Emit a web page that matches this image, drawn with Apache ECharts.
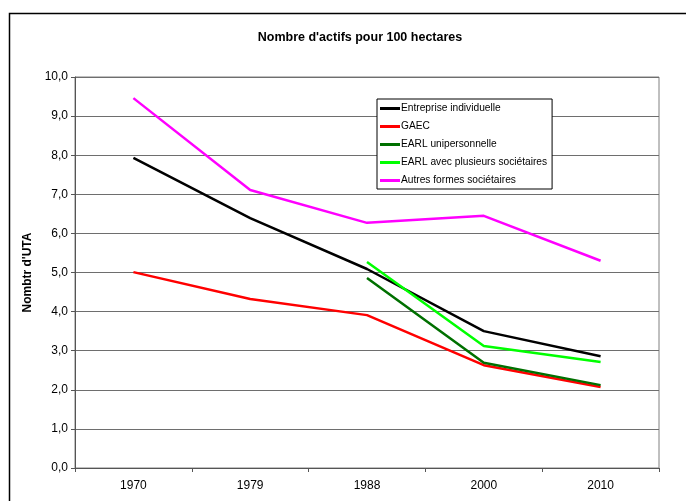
<!DOCTYPE html>
<html>
<head>
<meta charset="utf-8">
<script src="https://cdn.jsdelivr.net/npm/echarts@6/dist/echarts.min.js"></script>
<style>
html,body{margin:0;padding:0;background:#fff;}
#c{width:686px;height:501px;}
</style>
</head>
<body>
<div id="c"></div>
<script>
const categories = ['1970', '1979', '1988', '2000', '2010'];
const entrepriseIndividuelle = [7.93, 6.39, 5.09, 3.50, 2.86];
const gaec = [5.01, 4.32, 3.91, 2.63, 2.07];
const earlUnipersonnelle = [null, null, 4.86, 2.69, 2.12];
const earlPlusieurs = [null, null, 5.27, 3.12, 2.71];
const autresFormes = [9.46, 7.11, 6.27, 6.45, 5.30];

const FONT = '"Liberation Sans", Arial, sans-serif';
const chart = echarts.init(document.getElementById('c'), null, {renderer: 'canvas'});

function mk(name, data, color) {
  return {
    name: name, type: 'line', data: data, symbol: 'none', showSymbol: false,
    connectNulls: false, animation: false,
    lineStyle: {color: color, width: 2.5}, itemStyle: {color: color}
  };
}

chart.setOption({
  backgroundColor: '#fff',
  animation: false,
  textStyle: {fontFamily: FONT},
  graphic: [{
    type: 'rect', shape: {x: 9.5, y: 13.5, width: 700, height: 520},
    style: {fill: 'none', stroke: '#000', lineWidth: 1.5}, z: -1
  }],
  title: {
    text: "Nombre d'actifs pour 100 hectares",
    left: 355, top: 26, textAlign: 'center',
    textStyle: {fontFamily: FONT, fontSize: 12.5, fontWeight: 'bold', color: '#000'}
  },
  legend: {
    orient: 'vertical', left: 377, top: 99,
    icon: 'rect',
    itemWidth: 20, itemHeight: 3, itemGap: 5,
    padding: [3, 5, 2, 3],
    borderColor: '#000', borderWidth: 1, backgroundColor: '#fff',
    textStyle: {fontFamily: FONT, fontSize: 10.2, color: '#000', padding: [0, 0, 0, -4], lineHeight: 13},
    data: ['Entreprise individuelle', 'GAEC', 'EARL unipersonnelle', 'EARL avec plusieurs sociétaires', 'Autres formes sociétaires']
  },
  grid: {left: 75, right: 27, top: 77, bottom: 33, show: true, borderColor: '#808080', borderWidth: 1},
  xAxis: {
    type: 'category', data: categories, boundaryGap: true,
    axisLine: {lineStyle: {color: '#555', width: 1}},
    axisTick: {show: true, length: 4, lineStyle: {color: '#555'}},
    axisLabel: {fontFamily: FONT, fontSize: 12, color: '#000', margin: 12}
  },
  yAxis: {
    type: 'value', min: 0, max: 10, interval: 1,
    name: "Nombtr d'UTA", nameLocation: 'middle', nameGap: 41,
    nameTextStyle: {fontFamily: FONT, fontSize: 12, fontWeight: 'bold', color: '#000'},
    axisLine: {show: true, lineStyle: {color: '#555', width: 1}},
    axisTick: {show: true, length: 4, lineStyle: {color: '#555'}},
    axisLabel: {fontFamily: FONT, fontSize: 12, color: '#000', margin: 7,
      formatter: v => v.toFixed(1).replace('.', ',')},
    splitLine: {lineStyle: {color: '#6e6e6e', width: 1}}
  },
  series: [
    mk('Entreprise individuelle', entrepriseIndividuelle, '#000000'),
    mk('GAEC', gaec, '#ff0000'),
    mk('EARL unipersonnelle', earlUnipersonnelle, '#007000'),
    mk('EARL avec plusieurs sociétaires', earlPlusieurs, '#00ff00'),
    mk('Autres formes sociétaires', autresFormes, '#ff00ff')
  ]
});
</script>
</body>
</html>
